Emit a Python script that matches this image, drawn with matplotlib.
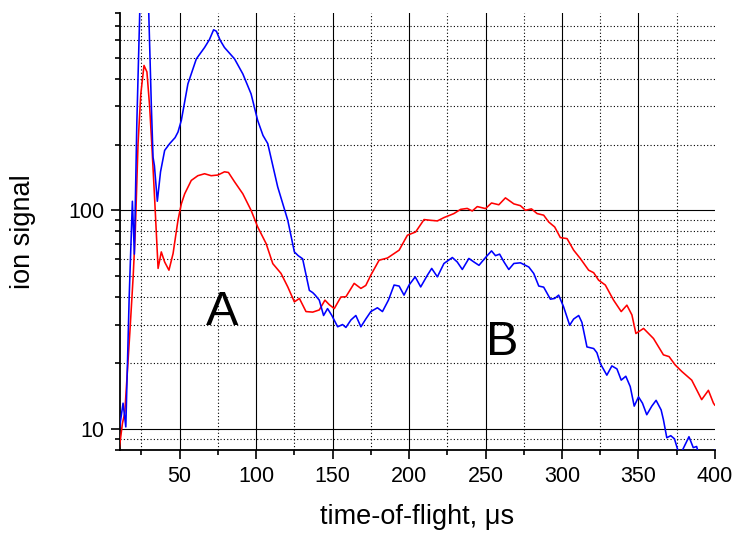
import matplotlib
matplotlib.use("Agg")
import matplotlib.pyplot as plt
from matplotlib.ticker import MultipleLocator, LogLocator, NullFormatter, FixedLocator

plt.rcParams['font.family'] = ['Liberation Sans', 'DejaVu Sans']

# ---- data ----
blue_x = [10.5, 13.0, 14.8, 17.0, 19.1, 20.4, 22.0, 23.9, 26.8, 29.8, 31.5, 32.6, 33.5, 35.4, 37.5,
          40.2, 43.5, 47.0, 48.9, 51.1, 55.4, 60.9, 66.3, 69.5, 72.2, 74.0, 76.5, 79.3, 85.9, 91.3,
          96.7, 101.0, 104.5, 107.6, 114.1, 120.7, 125.0, 127.5, 130.4, 134.8, 137.0, 138.5, 141.3,
          144.1, 146.7, 149.5, 153.3, 156.5, 158.7, 162.0, 165.2, 168.5, 171.7, 175.0, 179.3, 182.6,
          186.5, 190.2, 193.5, 196.7, 200.0, 204.0, 207.6, 212.0, 214.8, 218.5, 222.8, 228.3, 231.5,
          234.8, 239.1, 242.4, 245.7, 250.0, 253.9, 256.5, 259.2, 262.0, 265.2, 268.5, 272.8, 278.3,
          281.5, 284.8, 288.0, 292.4, 295.2, 297.8, 301.0, 305.0, 307.6, 310.9, 313.0, 316.3, 320.7,
          322.8, 325.0, 329.3, 332.6, 335.9, 338.7, 341.7, 344.6, 347.2, 350.0, 352.6, 355.4, 358.7,
          361.5, 364.8, 366.3, 368.5, 371.1, 373.5, 375.7, 377.0, 378.8, 383.0, 385.8, 388.0, 389.5,
          392.0, 398.0, 400.0]
blue_y = [9.9, 13.1, 10.2, 40.0, 110.0, 63.0, 250.0, 800.0, 1500.0, 800.0, 300.0, 175.0, 160.0, 110.0, 150.0,
          188.0, 202.0, 215.0, 228.0, 258.0, 379.0, 493.0, 556.0, 605.0, 670.0, 660.0, 600.0, 556.0, 493.0, 421.0,
          341.0, 258.0, 220.0, 202.0, 128.0, 90.0, 64.5, 62.0, 60.0, 43.0, 42.0, 41.0, 38.8,
          33.0, 35.5, 33.0, 29.3, 30.0, 29.1, 31.5, 33.0, 29.3, 31.8, 34.4, 35.8, 34.4,
          38.8, 45.5, 45.0, 40.9, 45.5, 49.6, 44.6, 50.5, 54.2, 49.6, 57.1, 60.8, 58.0,
          53.6, 60.2, 58.0, 56.0, 60.8, 65.2, 62.0, 63.0, 58.1, 53.6, 57.1, 57.5, 55.0,
          51.4, 45.0, 44.5, 39.2, 39.5, 40.9, 36.2, 29.8, 31.8, 33.0, 30.7, 23.7, 23.3,
          22.3, 19.9, 17.6, 19.4, 18.8, 16.7, 17.4, 15.6, 12.7, 14.0, 13.1, 11.6, 12.7,
          13.5, 12.2, 11.0, 9.1, 9.3, 9.0, 8.0, 7.6, 8.0, 9.2, 8.2, 8.3, 7.6,
          7.4, 7.5, 8.0]

red_x = [10.4, 12.6, 14.1, 17.4, 19.6, 21.0, 22.8, 24.6, 26.7, 28.6, 30.4, 32.0, 33.7, 35.9, 38.0,
         40.2, 43.0, 45.7, 48.9, 51.1, 53.3, 57.6, 61.9, 66.3, 70.6, 75.0, 79.3, 81.9, 85.9, 91.3,
         96.7, 101.0, 106.5, 110.9, 116.3, 120.7, 125.0, 128.3, 132.6, 137.0, 141.3, 145.0, 147.8,
         151.1, 155.4, 158.7, 164.1, 168.5, 171.7, 175.0, 180.4, 185.9, 193.5, 198.9, 204.3, 209.8,
         214.1, 218.5, 222.8, 229.3, 233.7, 238.0, 241.3, 244.6, 250.0, 253.9, 258.7, 263.0, 268.5,
         272.8, 276.1, 280.0, 283.7, 288.0, 291.3, 295.2, 298.9, 303.3, 307.6, 312.0, 317.4, 320.7,
         323.9, 328.3, 333.7, 338.7, 342.4, 345.7, 348.3, 353.3, 359.8, 366.3, 370.0, 374.0, 378.3,
         384.8, 388.0, 391.3, 395.7, 399.0, 400.0]
red_y = [8.0, 10.6, 11.8, 27.3, 49.6, 80.0, 202.0, 341.0, 460.0, 430.0, 297.0, 188.0, 111.0, 54.2, 64.5,
         58.0, 53.2, 63.4, 90.0, 107.0, 119.0, 137.0, 144.0, 147.0, 144.0, 145.0, 150.0, 149.0, 135.0, 119.0,
         100.0, 84.0, 70.5, 57.0, 51.4, 44.6, 38.1, 39.5, 34.4, 34.2, 35.0, 38.8, 37.0,
         35.5, 40.1, 40.2, 46.3, 43.9, 45.3, 50.5, 59.1, 60.5, 65.7, 76.9, 79.6, 90.7,
         90.0, 89.4, 92.6, 96.6, 101.0, 102.0, 99.3, 104.0, 101.8, 108.0, 106.0, 114.0, 107.0,
         105.0, 100.0, 101.5, 96.6, 95.0, 88.4, 83.9, 75.0, 74.2, 65.7, 60.1, 53.2, 51.8,
         47.9, 45.5, 38.8, 34.4, 36.8, 33.2, 27.3, 28.8, 25.9, 21.8, 21.4, 19.6, 18.3,
         16.7, 15.1, 13.6, 15.0, 13.1, 12.8]

x_major = [50, 100, 150, 200, 250, 300, 350, 400]
x_labels = ['50', '100', '150', '200', '250', '300', '350', '400']
y_major = [10, 100]
y_labels = ['10', '100']
region_labels = ['A', 'B']
region_pos = [(78, 33.9), (260.6, 24.9)]

# ---- figure ----
fig = plt.figure(figsize=(7.38, 5.38), dpi=100)
ax = fig.add_axes([0.1626, 0.1636, 0.8062, 0.8123])
ax.set_axisbelow(True)

ax.plot(red_x, red_y, color='#ff0000', lw=1.15, zorder=3,
        solid_joinstyle='round', solid_capstyle='round')
ax.plot(blue_x, blue_y, color='#0000ff', lw=1.15, zorder=4,
        solid_joinstyle='round', solid_capstyle='round')

ax.set_yscale('log')
ax.set_xlim(11, 400)
ax.set_ylim(8, 800)

ax.xaxis.set_major_locator(FixedLocator(x_major))
ax.set_xticklabels(x_labels)
ax.xaxis.set_minor_locator(MultipleLocator(25))
ax.yaxis.set_major_locator(FixedLocator(y_major))
ax.set_yticklabels(y_labels)
ax.yaxis.set_minor_locator(LogLocator(base=10, subs=[2, 3, 4, 5, 6, 7, 8, 9]))
ax.yaxis.set_minor_formatter(NullFormatter())

ax.grid(which='major', color='black', lw=0.8, ls='-')
ax.grid(which='minor', color='black', lw=0.8, ls=(0, (1, 2)))

for s in ['top', 'right']:
    ax.spines[s].set_visible(False)
for s in ['left', 'bottom']:
    ax.spines[s].set_linewidth(1.3)

ax.tick_params(which='major', direction='out', length=6.5, width=1.2, labelsize=15.5, pad=5)
ax.tick_params(which='minor', direction='out', length=3.6, width=1.2)

ax.set_xlabel('time-of-flight, μs', fontsize=19.5, labelpad=12)
ax.set_ylabel('ion signal', fontsize=19.5, labelpad=23)

for lab, (tx, ty) in zip(region_labels, region_pos):
    ax.text(tx, ty, lab, fontsize=35, ha='center', va='center', zorder=5)

# hide gridlines sitting on the axes limits
fig.canvas.draw()
for t in ax.xaxis.get_major_ticks():
    if abs(t.get_loc() - 400) < 1e-6:
        t.gridline.set_visible(False)
for t in ax.yaxis.get_minor_ticks():
    loc = t.get_loc()
    if abs(loc - 800) < 1e-6 or abs(loc - 8) < 1e-6:
        t.gridline.set_visible(False)

fig.savefig('out.png', dpi=100)
